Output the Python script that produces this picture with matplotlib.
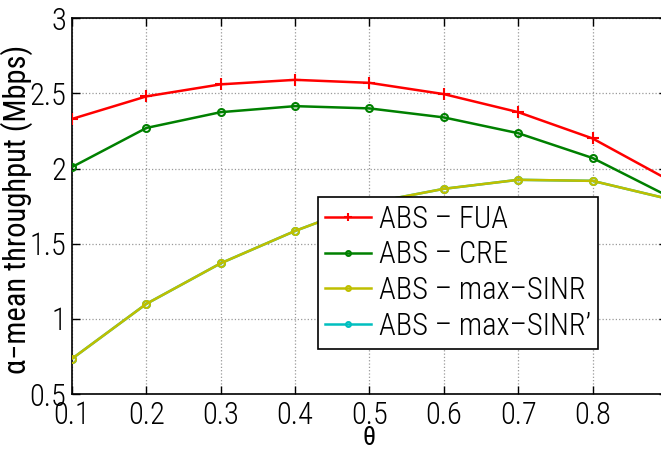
import matplotlib
matplotlib.use('Agg')
import matplotlib.pyplot as plt

plt.rcParams['font.family'] = ['Roboto Condensed', 'Liberation Sans', 'DejaVu Sans']
plt.rcParams['font.weight'] = 'light'

theta = [0.1, 0.2, 0.3, 0.4, 0.5, 0.6, 0.7, 0.8, 0.9]
fua = [2.33, 2.48, 2.56, 2.59, 2.57, 2.495, 2.375, 2.20, 1.93]
cre = [2.01, 2.27, 2.375, 2.415, 2.40, 2.34, 2.235, 2.07, 1.82]
max_sinr = [0.735, 1.10, 1.37, 1.585, 1.77, 1.865, 1.925, 1.918, 1.80]
max_sinr2 = [0.735, 1.10, 1.37, 1.585, 1.77, 1.865, 1.925, 1.918, 1.80]

xticks = [0.1, 0.2, 0.3, 0.4, 0.5, 0.6, 0.7, 0.8]
yticks = [0.5, 1, 1.5, 2, 2.5, 3]

fig = plt.figure(figsize=(6.61, 4.55), dpi=100)
ax = fig.add_axes([0.109, 0.134, 0.90, 0.826])

# cyan series sits underneath the yellow one
ax.plot(theta, max_sinr2, color='#00bfbf', marker='o', markersize=5, fillstyle='none',
        markeredgewidth=1.5, linewidth=1.8, label='ABS \u2013 max\u2013SINR\u2019', zorder=2)
ax.plot(theta, fua, color='#ff0000', marker='+', markersize=8, markeredgewidth=1.5,
        linewidth=1.8, label='ABS \u2013 FUA', zorder=3)
ax.plot(theta, cre, color='#008000', marker='o', markersize=5, fillstyle='none',
        markeredgewidth=1.5, linewidth=1.8, label='ABS \u2013 CRE', zorder=3)
ax.plot(theta, max_sinr, color='#bfbf00', marker='o', markersize=5, fillstyle='none',
        markeredgewidth=1.5, linewidth=1.8, label='ABS \u2013 max\u2013SINR', zorder=3)

ax.set_xlim(0.1, 0.9)
ax.set_ylim(0.5, 3)
ax.set_xticks(xticks)
ax.set_xticklabels([str(t) for t in xticks])
ax.set_yticks(yticks)
ax.set_yticklabels(['0.5', '1', '1.5', '2', '2.5', '3'])
ax.tick_params(direction='in', length=6, width=1, labelsize=22, top=True, right=True)
ax.tick_params(axis='x', pad=5)
ax.tick_params(axis='y', pad=4)
ax.grid(True, linestyle=':', color='#999999', linewidth=0.9)
for s in ax.spines.values():
    s.set_linewidth(1.2)

ax.set_xlabel('\u03b8', fontsize=19)
ax.xaxis.set_label_coords(0.5, -0.085)
ax.set_ylabel('\u03b1\u2212mean throughput (Mbps)', fontsize=22)
ax.yaxis.set_label_coords(-0.066, 0.49)

handles, labels = ax.get_legend_handles_labels()
order = [1, 2, 3, 0]
leg = ax.legend([handles[i] for i in order], [labels[i] for i in order],
                loc='upper left', bbox_to_anchor=(0.413, 0.524), fontsize=22,
                fancybox=False, edgecolor='black', framealpha=1,
                handlelength=1.5, handletextpad=0.25, borderpad=0.25, labelspacing=0.22,
                markerscale=0.7, borderaxespad=0)
leg.get_frame().set_linewidth(1.2)

fig.savefig('out.png', dpi=100)
